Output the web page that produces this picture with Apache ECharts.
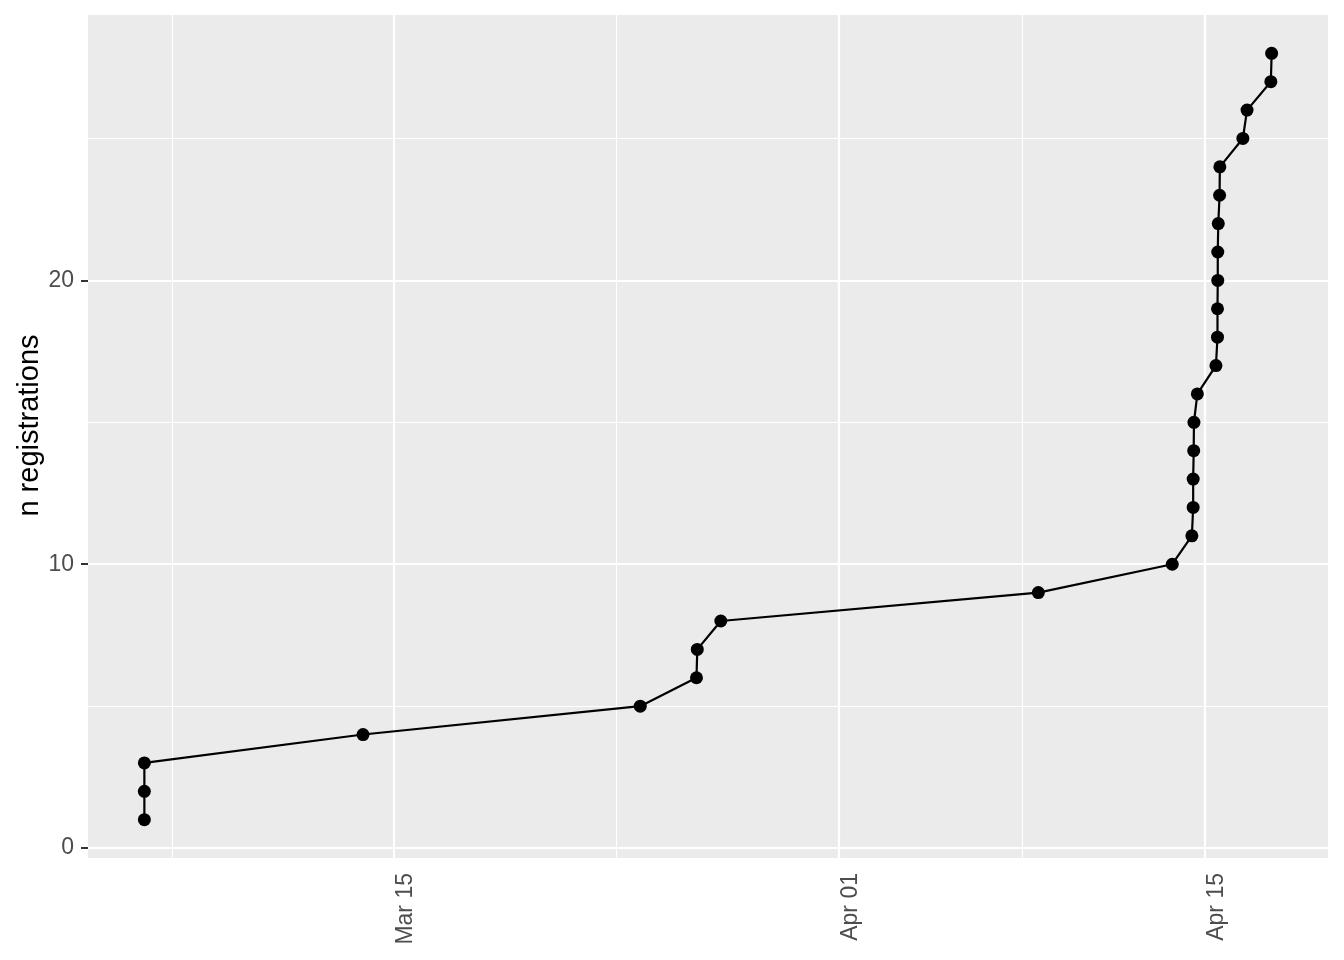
<!DOCTYPE html>
<html><head><meta charset="utf-8">
<script src="https://cdn.jsdelivr.net/npm/echarts@6/dist/echarts.min.js"></script>
<style>html,body{margin:0;padding:0;background:#fff}#c{width:1344px;height:960px}</style>
</head><body><div id="c"></div>
<script>
// registration timestamps and cumulative count
const registrationTimes = [
  '2021-03-05 10:48','2021-03-05 10:48','2021-03-05 10:48','2021-03-13 19:26',
  '2021-03-24 09:50','2021-03-26 13:26','2021-03-26 14:10','2021-03-27 11:46',
  '2021-04-08 15:07','2021-04-13 18:00','2021-04-14 12:00','2021-04-14 13:12',
  '2021-04-14 13:12','2021-04-14 13:41','2021-04-14 13:55','2021-04-14 17:02',
  '2021-04-15 10:05','2021-04-15 11:31','2021-04-15 11:31','2021-04-15 11:46',
  '2021-04-15 11:46','2021-04-15 12:14','2021-04-15 13:26','2021-04-15 13:41',
  '2021-04-16 10:48','2021-04-16 14:38','2021-04-17 12:29','2021-04-17 13:12'
];
const registrationCounts = [1,2,3,4,5,6,7,8,9,10,11,12,13,14,15,16,17,18,19,20,21,22,23,24,25,26,27,28];
const xMajorTicks = ['2021-03-15 00:00','2021-04-01 00:00','2021-04-15 00:00'];
const xMinorGrid = ['2021-03-06 12:00','2021-03-23 12:00','2021-04-08 00:00'];
const yMajorTicks = [0,10,20];
const yMinorGrid = [5,15,25];
const yAxisTitle = 'n registrations';
const monthNames = ['Jan','Feb','Mar','Apr','May','Jun','Jul','Aug','Sep','Oct','Nov','Dec'];

function toMs(s){
  const [d,t] = s.split(' ');
  const [y,m,dd] = d.split('-').map(Number);
  const [hh,mm] = (t||'00:00').split(':').map(Number);
  return new Date(y, m-1, dd, hh, mm).getTime();
}
const xs = registrationTimes.map(toMs);
const data = xs.map((x,i)=>[x, registrationCounts[i]]);
const xMin0 = Math.min(...xs), xMax0 = Math.max(...xs);
const xPad = (xMax0 - xMin0) * 0.05;
const yMin0 = Math.min(...registrationCounts), yMax0 = Math.max(...registrationCounts);
const yPad = (yMax0 - yMin0) * 0.05;
const xMajor = xMajorTicks.map(toMs), xMinor = xMinorGrid.map(toMs);

function fmt(v){
  const d = new Date(v);
  return monthNames[d.getMonth()] + ' ' + String(d.getDate()).padStart(2,'0');
}
const gridLines = [];
xMinor.forEach(v=>gridLines.push({xAxis:v, lineStyle:{color:'#fff',width:1.1,type:'solid'}}));
yMinorGrid.forEach(v=>gridLines.push({yAxis:v, lineStyle:{color:'#fff',width:1.1,type:'solid'}}));
xMajor.forEach(v=>gridLines.push({xAxis:v, lineStyle:{color:'#fff',width:2.2,type:'solid'}}));
yMajorTicks.forEach(v=>gridLines.push({yAxis:v, lineStyle:{color:'#fff',width:2.2,type:'solid'}}));

const FONT = 'Liberation Sans, Arial, sans-serif';
const chart = echarts.init(document.getElementById('c'), null, {renderer:'canvas'});
chart.setOption({
  animation:false,
  backgroundColor:'#fff',
  textStyle:{fontFamily:FONT},
  grid:{left:88, right:16, top:15, bottom:102, show:true, backgroundColor:'#EBEBEB', borderWidth:0},
  xAxis:{
    type:'value', min:xMin0 - xPad, max:xMax0 + xPad,
    axisLine:{show:false},
    splitLine:{show:false},
    axisTick:{show:true, length:7, lineStyle:{color:'#333', width:2}, customValues:xMajor},
    axisLabel:{show:true, customValues:xMajor, rotate:90, formatter:fmt, color:'#4D4D4D',
      fontSize:23, fontFamily:FONT, margin:15, align:'right', verticalAlign:'top'}
  },
  yAxis:{
    type:'value', min:yMin0 - yPad, max:yMax0 + yPad,
    name:yAxisTitle, nameLocation:'middle', nameRotate:90, nameGap:44, nameMoveOverlap:false,
    nameTextStyle:{color:'#000', fontSize:29, fontFamily:FONT, padding:[0,0,0,22]},
    axisLine:{show:false},
    splitLine:{show:false},
    axisTick:{show:true, length:7, lineStyle:{color:'#333', width:2}, customValues:yMajorTicks},
    axisLabel:{show:true, customValues:yMajorTicks, color:'#4D4D4D', fontSize:23,
      fontFamily:FONT, margin:14}
  },
  series:[
    {type:'line', z:1, data:data, symbol:'none', lineStyle:{opacity:0}, silent:true,
      markLine:{z:1, silent:true, symbol:['none','none'], label:{show:false}, data:gridLines, animation:false}},
    {type:'line', z:3, data:data, symbol:'circle', symbolSize:13, showSymbol:true,
      itemStyle:{color:'#000'}, lineStyle:{color:'#000', width:2.2}}
  ]
});
</script></body></html>
